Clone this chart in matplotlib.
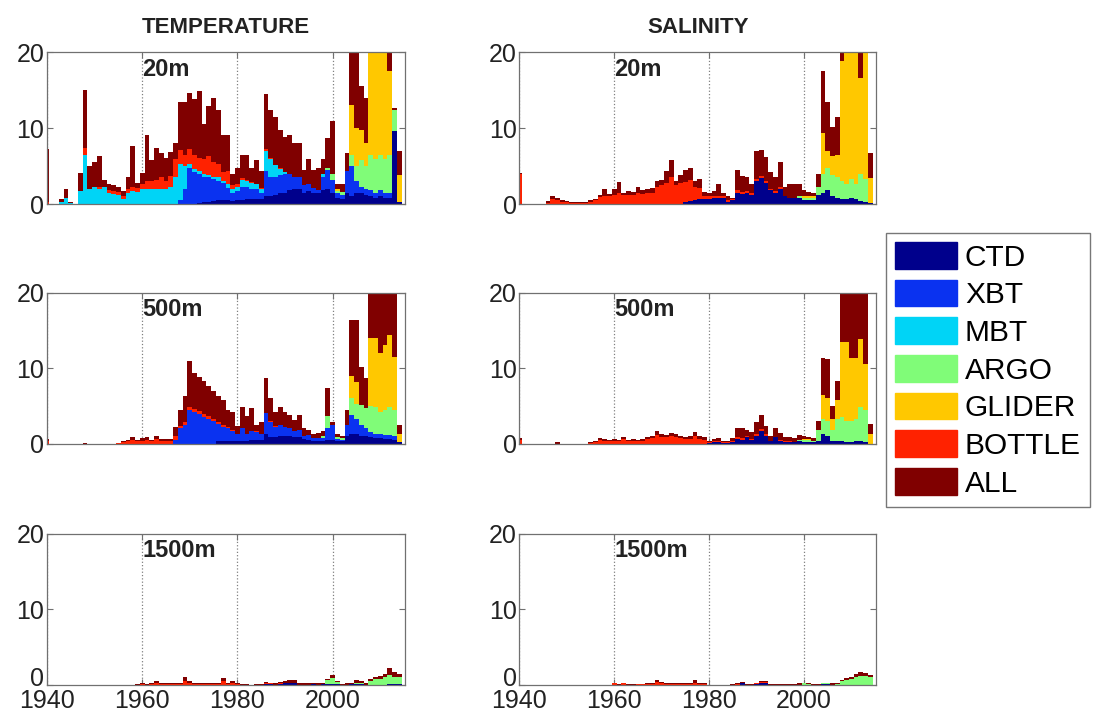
import numpy as np
import matplotlib.pyplot as plt
from matplotlib.transforms import ScaledTranslation

plt.rcParams['font.family'] = ['Liberation Sans', 'DejaVu Sans']

years = np.arange(1940, 2016)
zero = [0] * 76

# ---- temperature 20m ----
t20_total = [7.2, 0, 0, 0.7, 2.0, 0.3, 0, 4.1, 15.1, 5.0, 5.6, 6.3, 3.2, 2.6, 2.5, 2.2, 1.7, 3.6, 7.6,
             2.8, 4.1, 9.1, 5.8, 7.4, 6.7, 6.1, 6.9, 8.0, 13.5, 13.5, 14.6, 13.8, 14.9, 10.5, 12.9, 14.0, 12.4, 9.1,
             9.1, 4.0, 4.7, 6.5, 6.5, 4.7, 5.8, 4.3, 14.5, 12.4, 11.5, 9.8, 8.9, 9.1, 8.0, 8.0, 4.5, 6.0, 4.5,
             4.7, 6.0, 8.7, 11.0, 2.7, 2.6, 6.7, 24, 22, 15.5, 14.0, 30, 30, 30, 30, 22, 12.6, 7.0, 0]
t20_ctd = [0] * 19 + \
          [0] * 13 + [0.2, 0.3, 0.3, 0.4, 0.5, 0.5] + \
          [0.5, 0.4, 0.5, 0.5, 0.6, 0.6, 0.7, 0.6, 1.0, 1.0, 1.2, 1.5, 1.5, 1.8, 2.0, 2.0, 1.5, 1.7, 1.5] + \
          [1.5, 1.8, 2.0, 1.5, 0.8, 0.6, 1.5, 1.0, 1.5, 1.5, 1.2, 1.0, 0.8, 1.0, 0.8, 0.8, 9.6, 0.3, 0]
t20_xbt = [0] * 19 + \
          [0] * 9 + [0.5, 2.0, 4.8, 4.2, 3.8, 3.3, 3.2, 2.9, 2.6, 2.3] + \
          [1.6, 1.0, 1.2, 1.8, 1.6, 1.4, 1.3, 0.8, 3.3, 2.6, 2.4, 2.3, 2.5, 2.2, 1.6, 1.6, 1.0, 0.9, 0.6] + \
          [0.4, 1.8, 2.5, 1.7, 0.6, 0.6, 2.8, 4.0, 1.5, 0.8, 0.8, 0.8, 0.7, 0.8, 0.6, 0.6, 0, 0, 0]
t20_mbt = [0, 0, 0, 0.3, 0.8, 0.1, 0, 1.7, 6.5, 2.0, 2.3, 2.0, 2.3, 1.5, 1.3, 1.2, 0.7, 1.5, 1.7] + \
          [1.6, 2.0, 2.0, 2.0, 2.0, 2.0, 2.0, 2.2, 3.5, 4.8, 3.0, 0.5, 0.4, 0.3, 0.3, 0.3, 0.3, 0.4, 0.3] + \
          [0.6, 0.6, 0.6, 0.9, 0.8, 0.8, 0.6, 0.6, 2.7, 2.4, 1.5, 0.8, 0.2, 0, 0, 0, 0, 0, 0] + \
          [0, 0.4] + [0] * 17
t20_argo = [0] * 57 + [0, 0, 0.3, 0.8, 0.3, 0.4, 0, 1.5, 2.0, 3.5, 3.0, 4.7, 4.5, 4.7, 4.6, 5.0, 2.8, 0, 0]
t20_glider = [0] * 57 + [0, 0, 0, 0, 0.3, 0, 0, 6.5, 5.0, 4.0, 3.0, 22, 22, 22, 22, 11.2, 0, 3.5, 0]
t20_bottle = [0.3, 0, 0, 0, 0, 0, 0, 0, 0.9, 0, 0, 0.3, 0, 0.3, 0.4, 0.4, 0.4, 0.5, 0.6] + \
             [0.5, 0.6, 1.0, 1.0, 1.2, 1.5, 1.0, 1.5, 2.5, 1.8, 1.5, 1.9, 1.8, 1.8, 2.0, 2.5, 2.0, 1.8, 1.1] + \
             [1.6, 0.5, 0.3, 0.2, 0.2, 0.1, 0.1, 0.1, 0.2, 0.1, 0.1, 0.1] + [0] * 7 + [0] * 19

# ---- salinity 20m ----
s20_total = [4.1, 0, 0, 0, 0, 0, 0.4, 1.0, 0.8, 0.5, 0.4, 0.3, 0.3, 0.3, 0.3, 0.5, 0.7, 1.2, 2.0,
             1.3, 2.0, 2.9, 1.5, 1.7, 1.6, 2.2, 1.8, 2.0, 2.1, 3.0, 3.2, 4.3, 5.8, 3.0, 3.8, 4.5, 4.8, 3.0,
             3.3, 1.6, 1.5, 1.7, 2.6, 1.5, 1.0, 0.8, 4.5, 3.7, 3.5, 2.7, 7.0, 7.1, 6.2, 4.2, 3.6, 5.5, 2.3,
             2.6, 2.7, 2.6, 1.8, 1.6, 1.5, 3.9, 17.5, 13.5, 10.2, 11.5, 24, 30, 30, 30, 22, 30, 6.7, 0]
s20_ctd = [0] * 19 + [0] * 16 + [0.3, 0.4, 0.5] + \
          [0.6, 0.6, 0.7, 0.8, 0.8, 0.8, 0.3, 0.5, 1.5, 1.3, 1.5, 1.2, 3.0, 3.4, 2.8, 1.8, 1.5, 2.0, 1.0] + \
          [0.8, 0.8, 0.8, 0.5, 0.5, 0.5, 1.2, 1.5, 1.8, 1.0, 0.8, 0.6, 0.7, 0.8, 0.6, 0.4, 0.3, 0.1, 0]
s20_argo = [0] * 57 + [0, 0, 0.2, 0.3, 0.3, 0.3, 1.0, 2.5, 3.0, 2.8, 2.7, 2.5, 2.0, 2.5, 2.0, 3.5, 3.0, 0, 0]
s20_glider = [0] * 57 + [0, 0, 0, 0.2, 0.2, 0.2, 0, 5.4, 2.2, 2.5, 3.0, 15.7, 25, 25, 25, 12.7, 25, 3.3, 0]
s20_bottle = [4.0, 0, 0, 0, 0, 0, 0.2, 0.6, 0.5, 0.3, 0.3, 0.2, 0.2, 0.2, 0.2, 0.3, 0.5, 0.9, 1.0] + \
             [1.0, 1.2, 1.5, 1.2, 1.2, 1.2, 1.5, 1.3, 1.4, 1.4, 2.2, 2.5, 2.8, 3.5, 2.5, 2.8, 2.6, 2.8, 1.8] + \
             [1.5, 0.5, 0.4, 0.3, 0.3, 0.2, 0.2, 0.1, 0.3, 0.3, 0.2, 0.2, 0.3, 0.3, 0.3, 0.2, 0.2, 0.2, 0.1] + \
             [0] * 19

# ---- temperature 500m ----
t500_total = [0.6, 0, 0, 0, 0, 0, 0, 0, 0.1, 0, 0, 0, 0, 0, 0, 0.1, 0.3, 0.5, 0.8,
              0.5, 0.7, 0.9, 0.5, 1.0, 0.6, 0.6, 0.6, 2.2, 4.4, 6.3, 11.0, 9.3, 8.8, 8.3, 7.6, 7.0, 6.3, 5.8,
              4.5, 4.2, 2.3, 4.9, 3.6, 4.7, 2.5, 2.9, 8.7, 6.0, 4.2, 4.9, 4.2, 3.8, 3.1, 3.8, 2.0, 1.8, 1.2,
              1.4, 1.7, 7.3, 2.8, 1.2, 1.0, 4.5, 16.4, 16.4, 10.2, 8.7, 25, 25, 25, 25, 25, 25, 2.4, 0]
t500_ctd = [0] * 19 + [0] * 17 + [0.3, 0.3] + \
           [0.3, 0.3, 0.3, 0.4, 0.4, 0.5, 0.5, 0.5, 1.2, 0.8, 0.8, 1.0, 1.0, 1.0, 0.8, 0.8, 0.6, 0.5, 0.4] + \
           [0.4, 0.4, 0.5, 0.5, 0.3, 0.3, 1.0, 1.2, 1.2, 1.0, 1.0, 0.8, 0.7, 0.7, 0.6, 0.6, 0.5, 0.2, 0]
t500_xbt = [0] * 19 + [0] * 8 + [0.5, 2.0, 2.5, 4.5, 4.2, 3.9, 3.5, 3.3, 3.0, 2.3, 1.9] + \
           [1.7, 1.3, 0.9, 1.6, 0.8, 1.1, 1.0, 0.7, 2.8, 2.1, 1.4, 1.5, 1.2, 1.0, 0.8, 1.0, 0.4, 0.6, 0.3] + \
           [0.3, 0.3, 1.5, 2.0, 0.3, 0.2, 1.5, 2.6, 2.0, 1.5, 1.0, 0.7, 0.6, 0.5, 0.5, 0.5, 0.5, 0, 0]
t500_argo = [0] * 57 + [0, 0.3, 1.6, 0, 0.2, 0.2, 0, 2.2, 2.0, 2.6, 2.7, 3.5, 3.5, 3.0, 3.3, 3.8, 3.5, 0, 0]
t500_glider = [0] * 57 + [0, 0, 0, 0, 0, 0, 0, 2.9, 3.0, 0, 0, 9.0, 9.2, 7.8, 8.7, 9.5, 7.0, 1.0, 0]
t500_bottle = [0.3] + [0] * 14 + [0.05, 0.2, 0.3, 0.5] + \
              [0.3, 0.4, 0.5, 0.3, 0.6, 0.4, 0.4, 0.4, 0.5, 0.3, 0.4, 0.4, 0.4, 0.4, 0.4, 0.3, 0.3, 0.3, 0.3] + \
              [0.2, 0.2, 0.1, 0.1, 0.1, 0.1, 0.1, 0.1, 0.1, 0.1, 0.1] + [0] * 8 + [0] * 19

# ---- salinity 500m ----
s500_total = [0.7, 0, 0, 0, 0, 0, 0, 0, 0.2, 0, 0, 0, 0, 0, 0, 0.2, 0.3, 0.7, 0.6,
              0.5, 0.6, 0.5, 0.9, 0.5, 0.6, 0.5, 0.6, 0.8, 1.0, 1.6, 1.3, 1.1, 1.4, 1.3, 1.0, 0.9, 1.0, 1.5,
              1.0, 0.8, 0.3, 0.6, 0.7, 0.4, 0.3, 0.7, 2.0, 2.0, 1.8, 1.5, 2.8, 3.8, 2.3, 1.0, 2.1, 1.4, 0.8,
              0.9, 0.7, 1.1, 1.0, 0.9, 0.7, 3.0, 11.4, 11.2, 5.0, 8.3, 25, 25, 25, 25, 25, 25, 2.6, 0]
s500_ctd = [0] * 38 + \
           [0, 0, 0.1, 0.2, 0.2, 0.1, 0.1, 0.2, 0.6, 0.5, 0.8, 0.5, 1.0, 1.7, 1.0, 0.3, 0.8, 0.4, 0.2] + \
           [0.2, 0.2, 0.3, 0.2, 0.2, 0.2, 0.3, 1.2, 1.0, 0.3, 0.3, 0.3, 0.2, 0.2, 0.3, 0.3, 0.2, 0, 0]
s500_argo = [0] * 57 + [0, 0, 0.2, 0.3, 0.3, 0.2, 1.5, 2.0, 2.0, 1.5, 3.0, 3.2, 2.8, 2.8, 2.9, 4.5, 4.3, 0, 0]
s500_glider = [0] * 57 + [0, 0, 0, 0.1, 0.1, 0, 0, 3.3, 3.0, 1.5, 2.5, 9.9, 10.4, 8.4, 8.2, 9.0, 6.0, 1.2, 0]
s500_bottle = [0.5] + [0] * 14 + [0.1, 0.2, 0.5, 0.4] + \
              [0.3, 0.4, 0.3, 0.6, 0.3, 0.4, 0.3, 0.4, 0.6, 0.7, 1.1, 0.9, 0.8, 1.0, 0.9, 0.7, 0.6, 0.6, 1.0] + \
              [0.6, 0.5, 0.1, 0.2, 0.2, 0.1, 0.1, 0.2, 0.2, 0.2, 0.2, 0.1, 0.2, 0.2, 0.2, 0.1, 0.1, 0.1, 0.1] + \
              [0.1] + [0] * 18

# ---- temperature 1500m ----
t1500_total = [0] * 19 + \
              [0.1, 0.3, 0.1, 0.3, 0.5, 0.2, 0.2, 0.2, 0.2, 0.2, 1.0, 0.5, 0.3, 0.3, 0.3, 0.2, 0.3, 0.3, 0.9] + \
              [0.3, 0.5, 0.3, 0.1, 0.1, 0.05, 0.1, 0.1, 0.4, 0.3, 0.2, 0.4, 0.5, 0.6, 0.6, 0.2, 0.2, 0.2, 0.3] + \
              [0.2, 0.3, 0.8, 1.3, 0.5, 0.1, 0.2, 0.3, 0.7, 0.5, 0.3, 0.8, 1.1, 1.2, 1.5, 2.3, 1.7, 1.4, 0]
t1500_ctd = [0] * 38 + \
            [0, 0, 0, 0, 0, 0, 0, 0, 0.1, 0.1, 0, 0.1, 0.2, 0.2, 0.2, 0.05, 0.05, 0.05, 0.1] + \
            [0.05, 0.1, 0.1, 0.1, 0.1, 0, 0.05, 0.1, 0.1, 0.1, 0.05, 0.05, 0.05, 0.05, 0.05, 0.1, 0.1, 0.1, 0]
t1500_argo = [0] * 57 + [0, 0, 0.5, 0.8, 0.3, 0, 0, 0, 0.2, 0.2, 0, 0.5, 0.7, 0.8, 1.0, 1.2, 1.0, 1.0, 0]
t1500_bottle = [0] * 19 + \
               [0.05, 0.15, 0.05, 0.15, 0.3, 0.1, 0.1, 0.1, 0.1, 0.1, 0.5, 0.3, 0.15, 0.15, 0.15, 0.1, 0.15, 0.15, 0.5] + \
               [0.15, 0.3, 0.15, 0.05, 0.05, 0, 0, 0, 0.1, 0.1, 0.05, 0.1, 0.1, 0.1, 0.1, 0, 0, 0, 0] + \
               [0] * 19

# ---- salinity 1500m ----
s1500_total = [0] * 19 + \
              [0, 0.3, 0.1, 0.3, 0.1, 0.1, 0.15, 0.15, 0.2, 0.2, 0.7, 0.4, 0.2, 0.2, 0.2, 0.2, 0.2, 0.2, 0.6] + \
              [0.2, 0.2, 0.05, 0.05, 0.05, 0.05, 0.05, 0.1, 0.2, 0.4, 0.1, 0.1, 0.3, 0.5, 0.5, 0.1, 0.1, 0.1, 0.1] + \
              [0.1, 0.1, 0.2, 0.3, 0.3, 0.1, 0.1, 0.3, 0.3, 0.2, 0.3, 0.7, 0.9, 1.1, 1.4, 1.7, 1.6, 1.3, 0]
s1500_ctd = [0] * 47 + [0.2, 0, 0, 0.1, 0.3, 0.3, 0.05, 0.05, 0.05, 0.05] + \
            [0.05, 0.05, 0.05, 0.05, 0.05, 0, 0, 0.1, 0.1, 0.05, 0.05, 0.05, 0.05, 0.05, 0.05, 0.05, 0.05, 0.05, 0]
s1500_argo = [0] * 57 + [0, 0, 0, 0.2, 0.1, 0, 0, 0.1, 0.1, 0, 0.1, 0.5, 0.6, 0.8, 1.0, 1.2, 1.1, 1.0, 0]
s1500_bottle = [0] * 19 + \
               [0, 0.2, 0.05, 0.2, 0.05, 0.05, 0.1, 0.1, 0.1, 0.1, 0.4, 0.2, 0.1, 0.1, 0.1, 0.1, 0.1, 0.1, 0.3] + \
               [0.1, 0.1, 0, 0, 0, 0, 0, 0.05, 0.1, 0.1, 0.05, 0.05, 0.1, 0.1, 0.1, 0, 0, 0, 0] + \
               [0] * 19

names = ["CTD", "XBT", "MBT", "ARGO", "GLIDER", "BOTTLE", "ALL"]
colors = ["#00008c", "#0a32f0", "#00d4f6", "#80fc78", "#ffc800", "#ff2200", "#800000"]


def draw(ax, total, parts, label):
    # ALL behind, instruments stacked in front
    ax.bar(years, total, width=1.0, color=colors[-1], linewidth=0)
    bottom = np.zeros(len(years))
    for vals, c in zip(parts, colors[:-1]):
        vals = np.array(vals, dtype=float)
        ax.bar(years, vals, width=1.0, bottom=bottom, color=c, linewidth=0)
        bottom += vals
    ax.set_xlim(1940, 2015.2)
    ax.set_ylim(0, 20)
    ax.set_xticks([1940, 1960, 1980, 2000])
    ax.set_yticks([0, 10, 20])
    ax.set_axisbelow(True)
    ax.grid(axis='x', linestyle=':', color='#808080', linewidth=0.9)
    ax.tick_params(direction='in', top=True, right=True, length=4, width=0.8,
                   labelsize=18, pad=2, colors='#707070', labelcolor='#222222')
    for s in ax.spines.values():
        s.set_color('#707070')
        s.set_linewidth(0.9)
    ax.text(1960, 19.3, label, fontsize=17, fontweight='bold', ha='left', va='top', color='#222222')


fig = plt.figure(figsize=(10.99, 7.24), dpi=100)

rows = [(0.7182, 0.2095), (0.3874, 0.2083), (0.0539, 0.2086)]
lefts = [(0.0428, 0.3257), (0.4727, 0.3244)]

panels = [
    [(t20_total, [t20_ctd, t20_xbt, t20_mbt, t20_argo, t20_glider, t20_bottle], "20m"),
     (s20_total, [s20_ctd, zero, zero, s20_argo, s20_glider, s20_bottle], "20m")],
    [(t500_total, [t500_ctd, t500_xbt, zero, t500_argo, t500_glider, t500_bottle], "500m"),
     (s500_total, [s500_ctd, zero, zero, s500_argo, s500_glider, s500_bottle], "500m")],
    [(t1500_total, [t1500_ctd, zero, zero, t1500_argo, zero, t1500_bottle], "1500m"),
     (s1500_total, [s1500_ctd, zero, zero, s1500_argo, zero, s1500_bottle], "1500m")],
]

for r, (b, h) in enumerate(rows):
    for c, (l, w) in enumerate(lefts):
        ax = fig.add_axes([l, b, w, h])
        total, parts, label = panels[r][c]
        draw(ax, total, parts, label)
        if r < 2:
            ax.set_xticklabels([])
        else:
            ax.tick_params(axis='x', pad=3)
            # lift the "0" a little off the year labels
            lbl = ax.get_yticklabels()[0]
            lbl.set_transform(lbl.get_transform() + ScaledTranslation(0, 6 / 72, fig.dpi_scale_trans))
        if r == 0:
            ax.set_title("TEMPERATURE" if c == 0 else "SALINITY",
                         fontsize=16, fontweight='bold', pad=14, color='#222222')

handles = [plt.Rectangle((0, 0), 1, 1, color=col) for col in colors]
leg = fig.legend(handles, names, loc='upper left', bbox_to_anchor=(0.806, 0.678),
                 borderaxespad=0, fontsize=21.5, handlelength=2.1, handleheight=1.0,
                 handletextpad=0.25, labelspacing=0.27, borderpad=0.3,
                 fancybox=False, framealpha=1)
leg.get_frame().set_edgecolor('#777777')
leg.get_frame().set_linewidth(1.0)

fig.savefig("out.png", dpi=100)
